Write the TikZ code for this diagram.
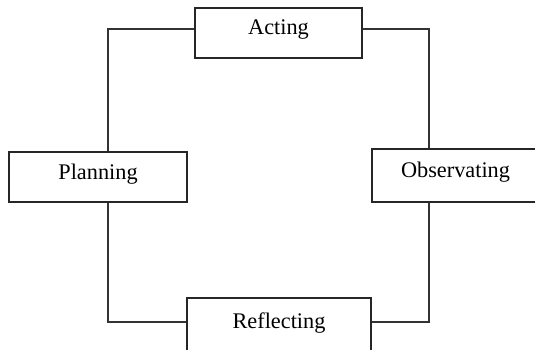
\documentclass[tikz,border=0pt]{standalone}
\usepackage{fontspec}
\setmainfont{Liberation Serif}
\tikzset{
	stage/.style={draw=black!85, line width=1.3pt, fill=white, inner sep=0pt, text depth=11pt, font=\fontsize{22.3}{26}\selectfont},
	link/.style={draw=black!80, line width=1.1pt}
}
\begin{document}
\begin{tikzpicture}[x=1pt,y=-1pt]
	\useasboundingbox (0,0) rectangle (535,349);
	\clip (0,0) rectangle (535,349);
	\node[stage, minimum width=167pt, minimum height=50pt] (act) at (278.5,33) {Acting};
	\node[stage, minimum width=178pt, minimum height=50pt] (plan) at (98,177) {Planning};
	\node[stage, minimum width=167pt, minimum height=53pt] (obs) at (455.5,175.5) {Observating};
	\node[stage, minimum width=184pt, minimum height=56pt] (refl) at (279,326) {Reflecting};
	\draw[link] ([yshift=4pt]act.west) -| ([xshift=10pt]plan.north);
	\draw[link] ([yshift=4pt]act.east) -| ([xshift=-26.5pt]obs.north);
	\draw[link] ([xshift=10pt]plan.south) |- ([yshift=4pt]refl.west);
	\draw[link] ([xshift=-26.5pt]obs.south) |- ([yshift=4pt]refl.east);
\end{tikzpicture}
\end{document}
